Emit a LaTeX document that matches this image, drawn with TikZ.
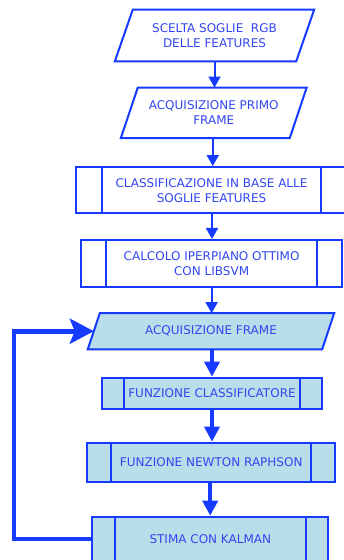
\documentclass[tikz,border=0pt]{standalone}
\usepackage{fontspec}
\setmainfont{DejaVu Sans}
\usetikzlibrary{arrows.meta}
\definecolor{bstroke}{RGB}{22,58,255}
\definecolor{btext}{RGB}{50,70,240}
\definecolor{bfill}{RGB}{186,222,233}
\pgfdeclarelayer{background}
\pgfsetlayers{background,main}
\tikzset{
  txt/.style={inner sep=0pt, align=center, text=btext, font=\fontsize{12}{15}\selectfont},
  procbox/.style={txt, draw=bstroke, line width=2pt},
  filled/.style={fill=bfill},
  paraline/.style={draw=bstroke, line width=2pt, line join=miter},
  thinarrow/.style={draw=bstroke, line width=2pt, -{Triangle[length=11pt,width=12pt]}},
  thickarrow/.style={draw=bstroke, line width=3.6pt, -{Triangle[length=15pt,width=15pt]}},
  looparrow/.style={draw=bstroke, line width=4.7pt, line join=miter, -{Stealth[length=24pt,width=25pt,inset=5pt]}},
}
\begin{document}
\begin{tikzpicture}[x=1pt,y=-1pt]
\useasboundingbox (0,0) rectangle (343,560);
% parallelogram 1
\node[txt, minimum width=181pt, minimum height=51.5pt] (n1) at (214.5,35.5) {SCELTA SOGLIE~ RGB\\DELLE FEATURES};
\begin{pgfonlayer}{background}
\draw[paraline] ([xshift=9pt]n1.north west) -- ([xshift=9pt]n1.north east) -- ([xshift=-9pt]n1.south east) -- ([xshift=-9pt]n1.south west) -- cycle;
\end{pgfonlayer}
% parallelogram 2
\node[txt, minimum width=168.5pt, minimum height=50.3pt] (n2) at (213.75,112.85) {ACQUISIZIONE PRIMO\\FRAME};
\begin{pgfonlayer}{background}
\draw[paraline] ([xshift=8.5pt]n2.north west) -- ([xshift=8.5pt]n2.north east) -- ([xshift=-8.5pt]n2.south east) -- ([xshift=-8.5pt]n2.south west) -- cycle;
\end{pgfonlayer}
% process 3
\node[procbox, minimum width=271pt, minimum height=46.3pt] (n3) at (211.5,190.2) {CLASSIFICAZIONE IN BASE ALLE\\SOGLIE FEATURES};
\draw[paraline] ([xshift=27pt]n3.north west) -- ([xshift=27pt]n3.south west);
\draw[paraline] ([xshift=-27pt]n3.north east) -- ([xshift=-27pt]n3.south east);
% process 4
\node[procbox, minimum width=261.3pt, minimum height=46.7pt] (n4) at (211.6,263.3) {CALCOLO IPERPIANO OTTIMO\\CON LIBSVM};
\draw[paraline] ([xshift=26pt]n4.north west) -- ([xshift=26pt]n4.south west);
\draw[paraline] ([xshift=-26pt]n4.north east) -- ([xshift=-26pt]n4.south east);
% parallelogram 5 (filled)
\node[txt, minimum width=234pt, minimum height=35.7pt] (n5) at (211,331.2) {ACQUISIZIONE FRAME};
\begin{pgfonlayer}{background}
\draw[paraline, fill=bfill] ([xshift=6pt]n5.north west) -- ([xshift=6pt]n5.north east) -- ([xshift=-6pt]n5.south east) -- ([xshift=-6pt]n5.south west) -- cycle;
\end{pgfonlayer}
% process 6
\node[procbox, filled, minimum width=219.4pt, minimum height=31.3pt] (n6) at (212,393.3) {FUNZIONE CLASSIFICATORE};
\draw[paraline] ([xshift=22.7pt]n6.north west) -- ([xshift=22.7pt]n6.south west);
\draw[paraline] ([xshift=-22.7pt]n6.north east) -- ([xshift=-22.7pt]n6.south east);
% process 7
\node[procbox, filled, minimum width=247.7pt, minimum height=39.6pt] (n7) at (211.2,462.5) {FUNZIONE NEWTON RAPHSON};
\draw[paraline] ([xshift=25pt]n7.north west) -- ([xshift=25pt]n7.south west);
\draw[paraline] ([xshift=-25pt]n7.north east) -- ([xshift=-25pt]n7.south east);
% process 8
\node[procbox, filled, minimum width=236pt, minimum height=44.6pt] (n8) at (210.3,539) {STIMA CON KALMAN};
\draw[paraline] ([xshift=23.7pt]n8.north west) -- ([xshift=23.7pt]n8.south west);
\draw[paraline] ([xshift=-23.7pt]n8.north east) -- ([xshift=-23.7pt]n8.south east);
% connectors
\draw[thinarrow] (n1.south) -- (n1.south |- n2.north);
\draw[thinarrow] ([xshift=-1pt]n2.south) -- ([xshift=-1pt]n2.south |- n3.north);
\draw[thinarrow] ([xshift=0.5pt]n3.south) -- ([xshift=0.5pt]n3.south |- n4.north);
\draw[thinarrow] (n4.south) -- (n4.south |- n5.north);
\draw[thickarrow] ([xshift=1pt]n5.south) -- ([xshift=1pt]n5.south |- n6.north);
\draw[thickarrow] (n6.south) -- (n6.south |- n7.north);
\draw[thickarrow] ([xshift=-1pt]n7.south) -- ([xshift=-1pt]n7.south |- n8.north);
\coordinate (c) at (14,539);
\draw[looparrow] (n8.west) -- (c) |- (n5.west);
\end{tikzpicture}
\end{document}
